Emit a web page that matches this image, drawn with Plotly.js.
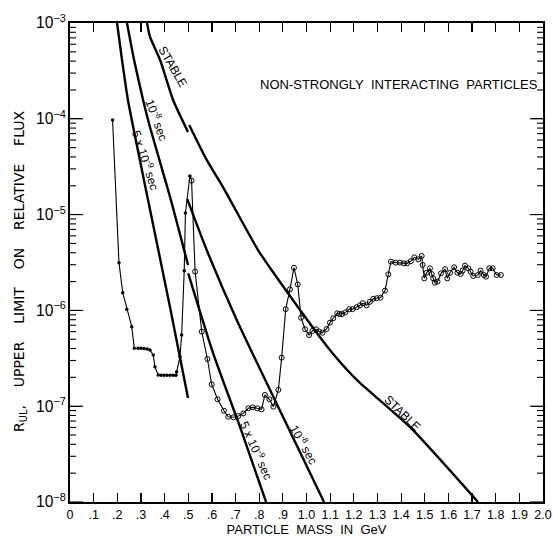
<!DOCTYPE html>
<html><head><meta charset="utf-8">
<script src="https://cdn.plot.ly/plotly-3.0.1.min.js"></script>
<style>html,body{margin:0;padding:0;background:#fff}#chart{width:553px;height:537px}</style>
</head><body><div id="chart"></div>
<script>
// Lifetime limit curves (mass in GeV, R_UL)
const stableUpperX = [0.326, 0.338, 0.381, 0.436, 0.499];
const stableUpperY = [1.0e-3, 7.19e-4, 4.11e-4, 1.57e-4, 7.28e-5];
const stableLowerX = [0.504, 0.578, 0.647, 0.795, 0.888, 1.099, 1.184, 1.226, 1.437, 1.725];
const stableLowerY = [8.61e-5, 3.72e-5, 1.94e-5, 4.27e-6, 1.98e-6, 3.86e-7, 2.22e-7, 1.75e-7, 6.07e-8, 1.0e-8];

const t8UpperX = [0.241, 0.271, 0.309, 0.338, 0.423, 0.499];
const t8UpperY = [1.0e-3, 4.11e-4, 1.57e-4, 8.20e-5, 1.53e-5, 2.98e-6];
const t8LowerX = [0.496, 0.578, 0.705, 0.901, 1.074];
const t8LowerY = [1.45e-5, 4.27e-6, 7.94e-7, 7.71e-8, 1.0e-8];

const t5UpperX = [0.199, 0.220, 0.245, 0.330, 0.423, 0.499];
const t5UpperY = [1.0e-3, 4.11e-4, 1.57e-4, 1.42e-5, 1.08e-6, 1.22e-7];
const t5LowerX = [0.500, 0.605, 0.719, 0.829];
const t5LowerY = [2.44e-6, 3.59e-7, 6.07e-8, 1.0e-8];

// Measured upper limits: low-mass run (filled dots)
const dotsX = [0.180, 0.207, 0.223, 0.240, 0.261, 0.272, 0.288, 0.300, 0.313, 0.326, 0.338, 0.352, 0.359, 0.373,
               0.385, 0.397, 0.410, 0.423, 0.436, 0.448, 0.451, 0.465, 0.472, 0.483, 0.488, 0.507];
const dotsY = [9.7e-5, 3.15e-6, 1.53e-6, 1.03e-6, 6.76e-7, 4.02e-7, 4.02e-7, 4.02e-7, 4.0e-7, 3.95e-7, 3.86e-7, 3.42e-7, 2.58e-7, 2.12e-7,
               2.10e-7, 2.10e-7, 2.10e-7, 2.10e-7, 2.10e-7, 2.10e-7, 2.29e-7, 3.29e-7, 5.53e-7, 2.59e-6, 1.04e-5, 2.53e-5];

// Measured upper limits: high-mass run (open circles)
const circX = [0.514, 0.529, 0.557, 0.581, 0.599, 0.624, 0.651, 0.669, 0.691, 0.712, 0.733, 0.754, 0.772, 0.792, 0.810,
               0.824, 0.843, 0.860, 0.881, 0.895, 0.912, 0.930, 0.947, 0.963, 0.977, 0.994, 1.011, 1.025, 1.040, 1.054,
               1.068, 1.085, 1.099, 1.113, 1.130, 1.139, 1.150, 1.164, 1.181, 1.195, 1.212, 1.226, 1.238, 1.254, 1.268,
               1.282, 1.297, 1.313, 1.332, 1.346, 1.357, 1.377, 1.395, 1.412, 1.426, 1.441, 1.456, 1.473, 1.487, 1.491,
               1.498, 1.508, 1.522, 1.529, 1.536, 1.543, 1.554, 1.569, 1.586, 1.595, 1.607, 1.624, 1.638, 1.652, 1.660,
               1.670, 1.684, 1.694, 1.705, 1.724, 1.736, 1.750, 1.759, 1.773, 1.787, 1.804, 1.822];
const circY = [2.26e-5, 2.54e-6, 6.0e-7, 3.11e-7, 1.69e-7, 1.18e-7, 8.97e-8, 7.76e-8, 7.66e-8, 7.91e-8, 8.41e-8, 9.51e-8, 9.73e-8, 9.51e-8, 9.27e-8,
               1.31e-7, 1.18e-7, 9.89e-8, 1.48e-7, 3.21e-7, 1.03e-6, 1.66e-6, 2.79e-6, 1.87e-6, 8.39e-7, 6.35e-7, 5.53e-7, 6.10e-7, 6.35e-7, 6.0e-7,
               5.85e-7, 6.40e-7, 7.45e-7, 8.28e-7, 9.33e-7, 9.16e-7, 9.16e-7, 9.55e-7, 1.03e-6, 1.03e-6, 1.08e-6, 1.13e-6, 1.19e-6, 1.13e-6, 1.23e-6,
               1.32e-6, 1.34e-6, 1.36e-6, 1.61e-6, 2.38e-6, 3.23e-6, 3.15e-6, 3.15e-6, 3.10e-6, 3.10e-6, 3.27e-6, 3.58e-6, 3.41e-6, 3.70e-6, 2.98e-6,
               2.16e-6, 2.47e-6, 2.75e-6, 2.40e-6, 2.16e-6, 1.95e-6, 2.00e-6, 2.44e-6, 2.69e-6, 2.16e-6, 2.47e-6, 2.82e-6, 2.47e-6, 2.40e-6, 2.60e-6,
               2.93e-6, 2.75e-6, 2.54e-6, 2.29e-6, 2.34e-6, 2.60e-6, 2.34e-6, 2.25e-6, 2.75e-6, 2.75e-6, 2.34e-6, 2.34e-6];

const xTickVals = [0, 0.1, 0.2, 0.3, 0.4, 0.5, 0.6, 0.7, 0.8, 0.9, 1.0, 1.1, 1.2, 1.3, 1.4, 1.5, 1.6, 1.7, 1.8, 1.9, 2.0];
const xTickText = ['0', '.1', '.2', '.3', '.4', '.5', '.6', '.7', '.8', '.9', '1.0', '1.1', '1.2', '1.3', '1.4', '1.5', '1.6', '1.7', '1.8', '1.9', '2.0'];
const yDecades = [-8, -7, -6, -5, -4, -3];
const yDigits = [2, 3, 4, 5, 6, 7, 8, 9];

// axis decoration: major (decade) and minor (2..9) log ticks on both frame edges
const majorVals = yDecades.map(d => Math.pow(10, d));
const minorVals = [];
yDecades.slice(0, -1).forEach(d => yDigits.forEach(m => minorVals.push(m * Math.pow(10, d))));

const X_RANGE = [0, 2.0];
const PLOT_W = 473;                         // plot width in px (553 - margins)
const PX = (X_RANGE[1] - X_RANGE[0]) / PLOT_W;

const FONT = 'Liberation Sans, Arial, sans-serif';
const TFONT = 'DejaVu Sans, Verdana, sans-serif';
const curve = (x, y) => ({x, y, type: 'scatter', mode: 'lines', line: {color: '#000', width: 2.4, shape: 'spline', smoothing: 0.6}, hoverinfo: 'skip', showlegend: false});
const tickTrace = (vals, len, side) => ({
  x: vals.map(() => side === 'left' ? X_RANGE[0] + (len / 2) * PX : X_RANGE[1] - (len / 2) * PX),
  y: vals, type: 'scatter', mode: 'markers', cliponaxis: false, hoverinfo: 'skip', showlegend: false,
  marker: {symbol: 'line-ew-open', size: len, color: '#000', line: {color: '#000', width: 1.1}}
});

const traces = [
  tickTrace(minorVals, 5, 'left'), tickTrace(minorVals, 5, 'right'),
  tickTrace(majorVals, 11, 'left'), tickTrace(majorVals, 11, 'right'),
  {x: dotsX, y: dotsY, type: 'scatter', mode: 'lines+markers',
   line: {color: '#000', width: 1.1}, marker: {symbol: 'circle', size: 3.5, color: '#000'}, showlegend: false},
  {x: [dotsX[dotsX.length - 1]].concat(circX), y: [dotsY[dotsY.length - 1]].concat(circY), type: 'scatter', mode: 'lines',
   line: {color: '#000', width: 1.1}, showlegend: false},
  {x: circX, y: circY, type: 'scatter', mode: 'markers',
   marker: {symbol: 'circle-open', size: 5, color: '#000', line: {width: 1}}, showlegend: false},
  curve(stableUpperX, stableUpperY), curve(stableLowerX, stableLowerY),
  curve(t8UpperX, t8UpperY), curve(t8LowerX, t8LowerY),
  curve(t5UpperX, t5UpperY), curve(t5LowerX, t5LowerY)
];

const lab = (text, x, ylog, angle) => ({text, x, y: ylog, xref: 'x', yref: 'y', showarrow: false, textangle: angle,
  font: {family: FONT, size: 12, color: '#000'}});

const layout = {
  width: 553, height: 537,
  margin: {l: 70, r: 10, t: 23, b: 35},
  paper_bgcolor: '#fff', plot_bgcolor: '#fff',
  font: {family: FONT, color: '#000', size: 12},
  xaxis: {
    range: X_RANGE, tickmode: 'array', tickvals: xTickVals, ticktext: xTickText,
    ticks: 'inside', ticklen: 9, tickwidth: 1.2, tickcolor: '#000',
    showline: true, linecolor: '#000', linewidth: 1.6, mirror: 'ticks',
    showgrid: false, zeroline: false,
    tickfont: {family: FONT, size: 12.5},
    title: {text: 'PARTICLE&nbsp;&nbsp;MASS&nbsp;&nbsp;IN&nbsp;&nbsp;GeV', font: {family: FONT, size: 13}, standoff: 7}
  },
  yaxis: {
    type: 'log', range: [-8, -3], dtick: 1, exponentformat: 'power', showexponent: 'all',
    ticks: 'inside', ticklen: 11, tickwidth: 1.2, tickcolor: '#000',
    showline: true, linecolor: '#000', linewidth: 1.6, mirror: 'ticks',
    showgrid: false, zeroline: false,
    tickfont: {family: FONT, size: 12.5},
    title: {text: 'R<sub>UL</sub>,&nbsp;&nbsp;&nbsp;&nbsp;UPPER&nbsp;&nbsp;&nbsp;&nbsp;LIMIT&nbsp;&nbsp;&nbsp;&nbsp;ON&nbsp;&nbsp;&nbsp;&nbsp;RELATIVE&nbsp;&nbsp;&nbsp;&nbsp;FLUX&nbsp;&nbsp;&nbsp;&nbsp;', font: {family: TFONT, size: 14}, standoff: 8}
  },
  annotations: [
    {text: 'NON-STRONGLY&nbsp;&nbsp;INTERACTING&nbsp;&nbsp;PARTICLES', xref: 'paper', yref: 'paper', x: 0.993, y: (502 - 85) / 479,
     xanchor: 'right', yanchor: 'middle', showarrow: false, font: {family: FONT, size: 13, color: '#000'}},
    lab('STABLE', 0.435, -3.46, 60),
    lab('10<sup>-8</sup> sec', 0.370, -4.01, 70),
    lab('5 x 10<sup>-9</sup> sec', 0.322, -4.43, 72),
    lab('5 x 10<sup>-9</sup> sec', 0.790, -7.457, 66),
    lab('10<sup>-8</sup> sec', 0.990, -7.395, 61),
    lab('STABLE', 1.405, -7.07, 44)
  ]
};

Plotly.newPlot('chart', traces, layout, {staticPlot: true, displayModeBar: false});
</script>
</body></html>
